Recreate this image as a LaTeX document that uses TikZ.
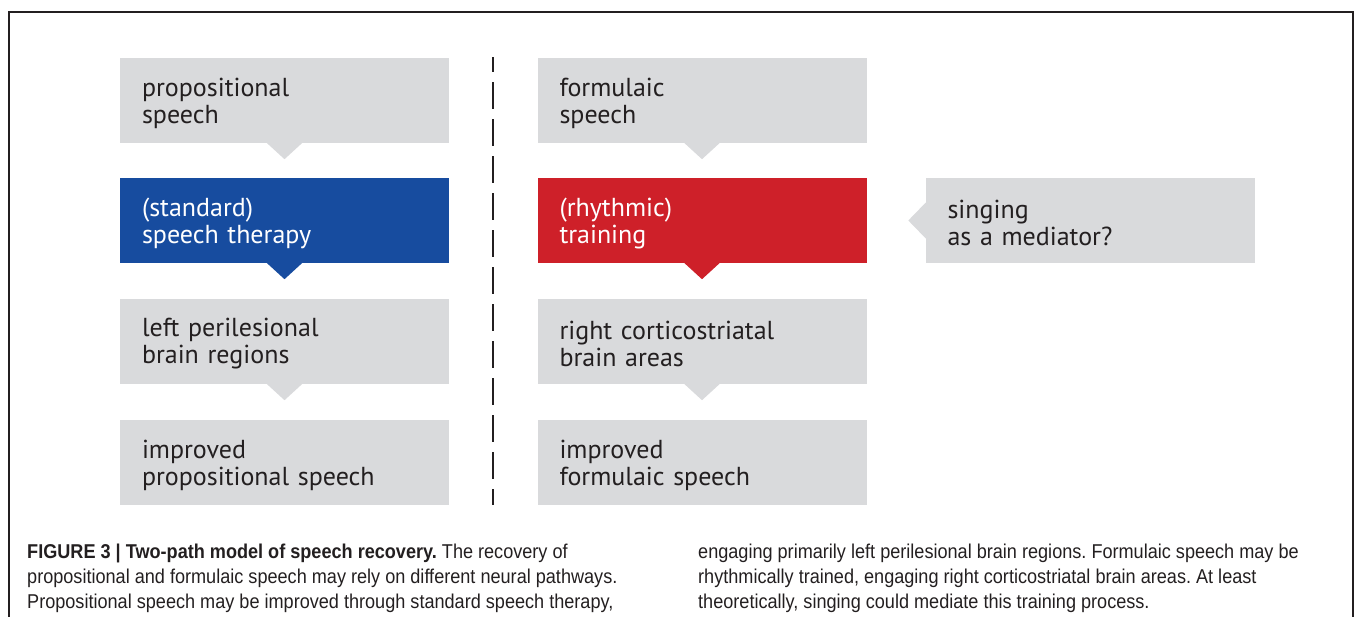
\documentclass[tikz,border=0pt]{standalone}
\usepackage{fontspec}
\setmainfont{PT Sans}
\newfontfamily\capfont[FakeStretch=0.905]{Liberation Sans}
\definecolor{boxgray}{HTML}{D9DADC}
\definecolor{myblue}{HTML}{174C9F}
\definecolor{myred}{HTML}{CE2029}
\definecolor{ink}{HTML}{231F20}
\frenchspacing
\begin{document}
\begin{tikzpicture}[x=1pt,y=-1pt,
  stepbox/.style={minimum width=329pt, minimum height=85pt, inner sep=0pt, fill=boxgray},
  bluebox/.style={stepbox, fill=myblue},
  redbox/.style={stepbox, fill=myred},
  boxtext/.style={inner sep=0pt, text width=285pt, align=left,
    font=\fontsize{26}{27}\selectfont, text=ink},
  whitetext/.style={boxtext, text=white},
  captext/.style={anchor=base west, inner sep=0pt, text=ink, font=\capfont\fontsize{20}{21}\selectfont},
  frameline/.style={draw=ink, line width=2.5pt},
  divider/.style={draw=ink, line width=1.5pt, dash pattern=on 27pt off 10pt, dash phase=12pt}]
\useasboundingbox (0,0) rectangle (1355,616);
\draw[frameline] (9,620) -- (9,12) -- (1353,12) -- (1353,620);

% boxes
\node[stepbox] (l1) at (284.5,100.5) {};
\node[bluebox] (l2) at (284.5,220.5) {};
\node[stepbox] (l3) at (284.5,341.5) {};
\node[stepbox] (l4) at (284.5,462.5) {};
\node[stepbox] (r1) at (702,100.5) {};
\node[redbox]  (r2) at (702,220.5) {};
\node[stepbox] (r3) at (702,341.5) {};
\node[stepbox] (r4) at (702,462.5) {};
\node[stepbox] (s) at (1090,220.5) {};

% texts
\node[boxtext]   (l1t) at ([yshift=-2.5pt]l1.center) {propositional\\speech};
\node[whitetext] (l2t) at ([yshift=-2.5pt]l2.center) {(standard)\\speech therapy};
\node[boxtext]   (l3t) at ([yshift=-2.5pt]l3.center) {left perilesional\\brain regions};
\node[boxtext]   (l4t) at ([yshift=-2.5pt]l4.center) {improved\\propositional speech};
\node[boxtext]   (r1t) at ([yshift=-2.5pt]r1.center) {formulaic\\speech};
\node[whitetext] (r2t) at ([yshift=-2.5pt]r2.center) {(rhythmic)\\training};
\node[boxtext]   (r3t) at ([yshift=-2.5pt]r3.center) {right corticostriatal\\brain areas};
\node[boxtext]   (r4t) at ([yshift=-2.5pt]r4.center) {improved\\formulaic speech};
\node[boxtext]   (st)  at ([yshift=-2.5pt]s.center)  {singing\\as a mediator?};

% tails
\foreach \n/\c in {l1/boxgray, l2/myblue, l3/boxgray, r1/boxgray, r2/myred, r3/boxgray}
  \fill[\c] ([xshift=-18pt,yshift=0.5pt]\n.south) -- ([xshift=18pt,yshift=0.5pt]\n.south) -- ([yshift=-16pt]\n.south) -- cycle;
\fill[boxgray] ([xshift=0.5pt,yshift=18pt]s.west) -- ([xshift=0.5pt,yshift=-18pt]s.west) -- ([xshift=-17pt]s.west) -- cycle;

% divider
\coordinate (dtop) at (493,57);
\coordinate (dbot) at (493,505);
\draw[divider] (dtop) -- (dbot);

% caption
\node[captext] (c1) at (27,558) {\textbf{FIGURE 3 | Two-path model of speech recovery.} The recovery of};
\node[captext] (c2) at (27,583.5) {propositional and formulaic speech may rely on different neural pathways.};
\node[captext] (c3) at (27,608) {Propositional speech may be improved through standard speech therapy,};
\node[captext] (c4) at (698,558) {engaging primarily left perilesional brain regions. Formulaic speech may be};
\node[captext] (c5) at (698,583.5) {rhythmically trained, engaging right corticostriatal brain areas. At least};
\node[captext] (c6) at (698,608) {theoretically, singing could mediate this training process.};
\end{tikzpicture}
\end{document}
